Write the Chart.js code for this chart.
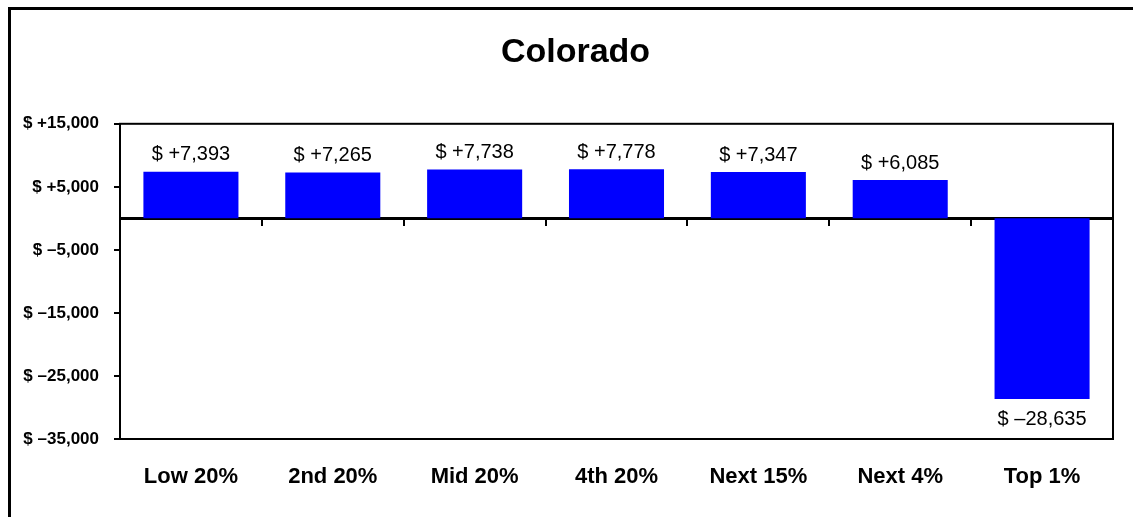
<!DOCTYPE html>
<html>
<head>
<meta charset="utf-8">
<script src="https://cdn.jsdelivr.net/npm/chart.js@4/dist/chart.umd.min.js"></script>
<style>
  body { margin: 0; background: #fff; }
  canvas { display: block; }
</style>
</head>
<body>
<canvas id="mycanvas" width="1133" height="517"></canvas>
<script>
var groups = ['Low 20%', '2nd 20%', 'Mid 20%', '4th 20%', 'Next 15%', 'Next 4%', 'Top 1%'];
var change = [7393, 7265, 7738, 7778, 7347, 6085, -28635];
var yMin = -35000, yMax = 15000, yStep = 10000;

function money(v) {
  var s = Math.abs(v).toLocaleString('en-US');
  if (v > 0) return '$ +' + s;
  if (v < 0) return '$ \u2013' + s;
  return '$ 0';
}

// outer frame (only top and left are visible) plus plot box
var framePlugin = {
  id: 'frame',
  afterLayout: function(chart) {
    // title in the original sits a bit right of the canvas centre
    if (chart.titleBlock) chart.titleBlock.left = 38;
  },
  beforeDraw: function(chart) {
    var ctx = chart.ctx;
    ctx.save();
    ctx.fillStyle = '#fff';
    ctx.fillRect(0, 0, chart.width, chart.height);
    ctx.fillStyle = '#000';
    ctx.fillRect(8, 7, chart.width, 3);
    ctx.fillRect(8, 7, 3, chart.height);
    ctx.restore();
  },
  afterDraw: function(chart) {
    var a = chart.chartArea, ctx = chart.ctx;
    ctx.save();
    ctx.strokeStyle = '#000';
    ctx.lineWidth = 2;
    ctx.strokeRect(a.left, a.top, a.right - a.left, a.bottom - a.top);
    ctx.restore();
  }
};

var valuePlugin = {
  id: 'values',
  afterDatasetsDraw: function(chart) {
    var ctx = chart.ctx;
    var meta = chart.getDatasetMeta(0);
    ctx.save();
    ctx.font = '20px "Liberation Sans", Arial, sans-serif';
    ctx.fillStyle = '#000';
    ctx.textAlign = 'center';
    ctx.textBaseline = 'middle';
    meta.data.forEach(function(bar, i) {
      var v = change[i];
      var y = v >= 0 ? bar.y - 17 : bar.y + 21;
      ctx.fillText(money(v), bar.x, y);
    });
    ctx.restore();
  }
};

var ctx = document.getElementById('mycanvas');
var chart = new Chart(ctx, {
  type: 'bar',
  data: {
    labels: groups,
    datasets: [{
      data: change,
      backgroundColor: '#0000FF',
      borderWidth: 0,
      barPercentage: 0.67,
      categoryPercentage: 1.0
    }]
  },
  options: {
    responsive: false,
    animation: false,
    layout: { padding: { left: 0, right: 20, top: 0, bottom: 0 } },
    plugins: {
      legend: { display: false },
      tooltip: { enabled: false },
      title: {
        display: true,
        text: 'Colorado',
        color: '#000',
        font: { family: '"Liberation Sans", Arial, sans-serif', size: 34, weight: 'bold' },
        padding: { top: 32, bottom: 51 }
      }
    },
    scales: {
      x: {
        position: 'bottom',
        grid: { display: false },
        border: { display: false },
        ticks: {
          color: '#000',
          padding: 17,
          font: { family: '"Liberation Sans", Arial, sans-serif', size: 22, weight: 'bold' }
        },
        afterFit: function(scale) { scale.height = 78; }
      },
      xz: {
        type: 'category',
        position: { y: 0 },
        offset: true,
        grid: {
          offset: true,
          drawOnChartArea: false,
          drawTicks: true,
          tickLength: 6,
          color: '#000',
          lineWidth: 2
        },
        border: { display: true, color: '#000', width: 3 },
        ticks: { display: false }
      },
      y: {
        min: yMin,
        max: yMax,
        grid: {
          drawOnChartArea: false,
          drawTicks: true,
          tickLength: 6,
          color: '#000',
          lineWidth: 2
        },
        border: { display: true, color: '#000', width: 2 },
        ticks: {
          stepSize: yStep,
          color: '#000',
          padding: 15,
          font: { family: '"Liberation Sans", Arial, sans-serif', size: 17, weight: 'bold' },
          callback: function(v) { return money(v); }
        },
        afterFit: function(scale) { scale.width = 120; }
      }
    }
  },
  plugins: [framePlugin, valuePlugin]
});
</script>
</body>
</html>
